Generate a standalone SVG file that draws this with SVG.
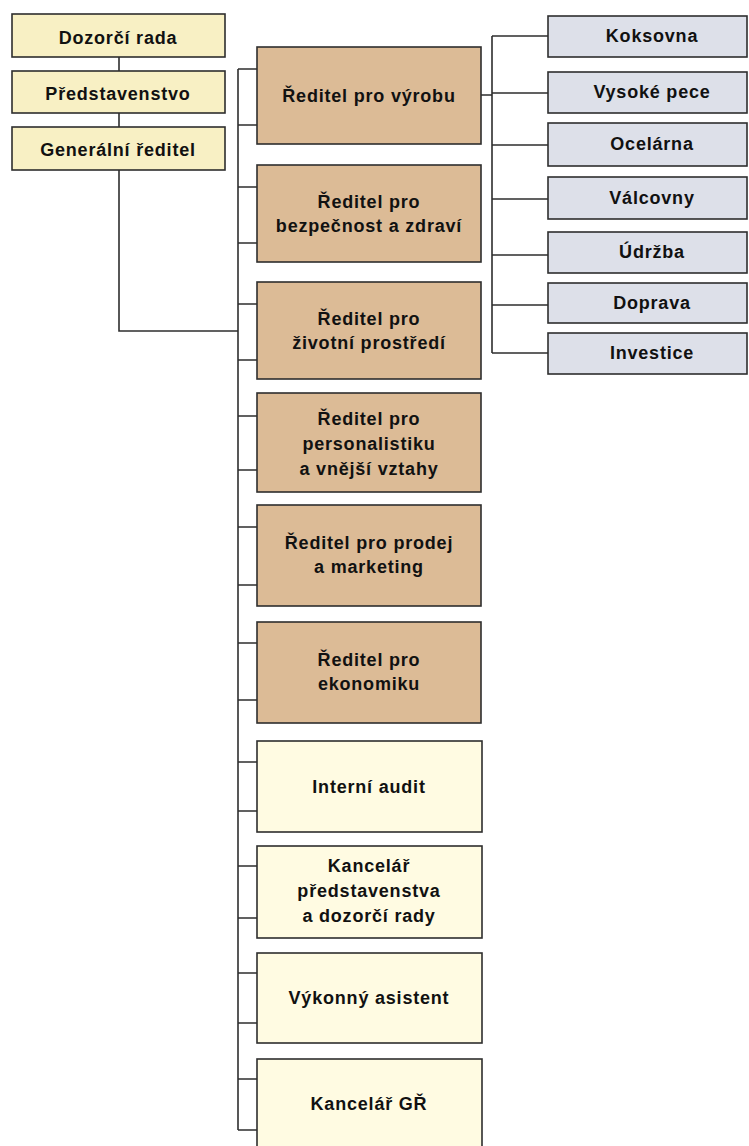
<svg xmlns="http://www.w3.org/2000/svg" width="749" height="1146" viewBox="0 0 749 1146">
<style>
.box{stroke:#2e2e2e;stroke-width:1.6}
.top{fill:#f8f0c4}
.dir{fill:#dcbb96}
.off{fill:#fffbe2}
.plant{fill:#dde0e9}
text{font-family:"Liberation Sans",Arial,sans-serif;font-weight:bold;font-size:18px;letter-spacing:0.8px;fill:#111;text-anchor:middle}
#connectors path{fill:none;stroke:#2e2e2e;stroke-width:1.6}
</style>
<rect x="0" y="0" width="749" height="1146" fill="#ffffff"/>
<g id="connectors">
<path d="M119 57V71M119 113V127M119 170V331H238"/>
<path d="M238 69V1130"/>
<path d="M238 69H257M238 125H257M238 187H257M238 243H257M238 304H257M238 360H257M238 416H257M238 470H257M238 527H257M238 585H257M238 643H257M238 700H257M238 762H257M238 811H257M238 866H257M238 918H257M238 973H257M238 1023H257M238 1079H257M238 1130H257"/>
<path d="M480 95H492M492 36V353"/>
<path d="M492 36H548M492 93H548M492 145H548M492 199H548M492 255H548M492 305H548M492 353H548"/>
</g>
<g id="dozorci-rada"><rect class="box top" x="12" y="14" width="213" height="43"/><text x="118" y="44">Dozorčí rada</text></g>
<g id="predstavenstvo"><rect class="box top" x="12" y="71" width="213" height="42"/><text x="118" y="100">Představenstvo</text></g>
<g id="generalni-reditel"><rect class="box top" x="12" y="127" width="213" height="43"/><text x="118" y="156">Generální ředitel</text></g>

<g id="reditel-vyroba"><rect class="box dir" x="257" y="47" width="224" height="97"/><text x="369" y="102">Ředitel pro výrobu</text></g>
<g id="reditel-bezpecnost"><rect class="box dir" x="257" y="165" width="224" height="97"/><text x="369" y="208">Ředitel pro</text><text x="369" y="232">bezpečnost a zdraví</text></g>
<g id="reditel-zivotni"><rect class="box dir" x="257" y="282" width="224" height="97"/><text x="369" y="325">Ředitel pro</text><text x="369" y="349">životní prostředí</text></g>
<g id="reditel-personalistika"><rect class="box dir" x="257" y="393" width="224" height="99"/><text x="369" y="425">Ředitel pro</text><text x="369" y="450">personalistiku</text><text x="369" y="475">a vnější vztahy</text></g>
<g id="reditel-prodej"><rect class="box dir" x="257" y="505" width="224" height="101"/><text x="369" y="549">Ředitel pro prodej</text><text x="369" y="573">a marketing</text></g>
<g id="reditel-ekonomika"><rect class="box dir" x="257" y="622" width="224" height="101"/><text x="369" y="666">Ředitel pro</text><text x="369" y="690">ekonomiku</text></g>

<g id="interni-audit"><rect class="box off" x="257" y="741" width="225" height="91"/><text x="369" y="793">Interní audit</text></g>
<g id="kancelar-predstavenstva"><rect class="box off" x="257" y="846" width="225" height="92"/><text x="369" y="872">Kancelář</text><text x="369" y="897">představenstva</text><text x="369" y="922">a dozorčí rady</text></g>
<g id="vykonny-asistent"><rect class="box off" x="257" y="953" width="225" height="90"/><text x="369" y="1004">Výkonný asistent</text></g>
<g id="kancelar-gr"><rect class="box off" x="257" y="1059" width="225" height="100"/><text x="369" y="1110">Kancelář GŘ</text></g>

<g id="koksovna"><rect class="box plant" x="548" y="16" width="199" height="41"/><text x="652" y="42">Koksovna</text></g>
<g id="vysoke-pece"><rect class="box plant" x="548" y="72" width="199" height="41"/><text x="652" y="98">Vysoké pece</text></g>
<g id="ocelarna"><rect class="box plant" x="548" y="123" width="199" height="43"/><text x="652" y="150">Ocelárna</text></g>
<g id="valcovny"><rect class="box plant" x="548" y="177" width="199" height="42"/><text x="652" y="204">Válcovny</text></g>
<g id="udrzba"><rect class="box plant" x="548" y="232" width="199" height="41"/><text x="652" y="258">Údržba</text></g>
<g id="doprava"><rect class="box plant" x="548" y="283" width="199" height="40"/><text x="652" y="309">Doprava</text></g>
<g id="investice"><rect class="box plant" x="548" y="333" width="199" height="41"/><text x="652" y="359">Investice</text></g>
</svg>
